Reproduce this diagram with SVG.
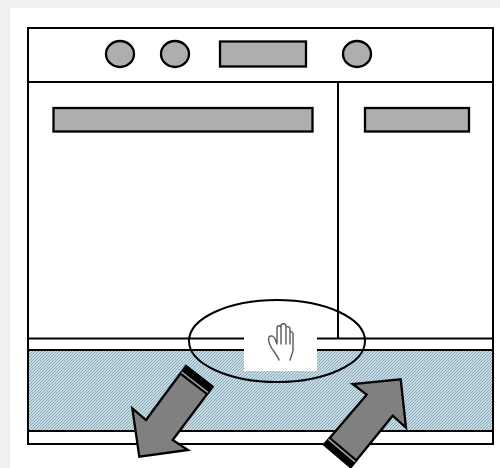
<svg xmlns="http://www.w3.org/2000/svg" width="500" height="468" viewBox="0 0 500 468">
<style>
.l{fill:none;stroke:#000;stroke-width:2}
.g{fill:#aeaeae;stroke:#000;stroke-width:2.300}
.a{fill:#808080;stroke:#000;stroke-width:2.300;stroke-linejoin:miter}
.b{fill:#000}
.s{fill:none;stroke:#b4b4b4;stroke-width:1.500}
.h{fill:none;stroke:#5a5a5a;stroke-width:1.400;stroke-linecap:round;stroke-linejoin:round}
</style>
<defs>
<pattern id="hatch" width="3" height="3" patternUnits="userSpaceOnUse">
<rect width="3" height="3" fill="#eef4f6"/>
<path d="M-1 1L1 -1M-1 4L4 -1M2 4L4 2" stroke="#7fa6ba" stroke-width="1.200"/>
</pattern>
</defs>
<rect width="500" height="468" fill="#f0f0f0"/>
<rect x="10" y="8" width="490" height="460" fill="#fff"/>
<g id="hatch-band"><rect x="28" y="350" width="464" height="81" fill="url(#hatch)"/></g>
<g id="body">
<rect class="l" x="28" y="28" width="465" height="416"/>
<path class="l" d="M28 82H493M338 82V338M28 338.500H493M28 350H493M28 431H493"/>
</g>
<g id="knob-1"><ellipse class="g" cx="120" cy="54" rx="14" ry="13"/></g>
<g id="knob-2"><ellipse class="g" cx="175" cy="54" rx="14" ry="13"/></g>
<g id="knob-3"><ellipse class="g" cx="357" cy="54" rx="14" ry="13"/></g>
<g id="display"><rect class="g" x="220" y="41.500" width="86" height="25"/></g>
<g id="handle-left"><rect class="g" x="53.500" y="108" width="259" height="23.500"/></g>
<g id="handle-right"><rect class="g" x="365" y="108" width="104" height="23.500"/></g>
<g id="hand-patch"><rect x="244" y="334" width="73" height="37" fill="#fff"/>
<path class="h" d="M279 360C278 356 273 351 271 347C269 343 268 339 269 337C271 335 274 336 275 339L277 344V328C277 325 281 325 281 328V344V326C281 323 286 323 286 326V344V328C286 326 290 326 290 329V344V333C290 331 293 331 293 334V350C293 353 291 356 290 360"/>
</g>
<g id="focus"><ellipse class="l" cx="277" cy="341" rx="88" ry="41"/></g>
<g id="arrow-down">
<path class="a" d="M186 366L212.700 386.700L172.700 440L188 450L139.300 456.700L132.300 408.300L146 420Z"/>
<path class="b" d="M186 366L212.700 386.700L206.400 395L179.700 374.400Z"/>
<path class="s" d="M181.500 372L208 392.500"/>
</g>
<g id="arrow-up">
<path class="a" d="M324 444.700L350.700 467.300L392.700 415.700L406 427.700L400.700 379.300L352.700 384L366.700 394.700Z"/>
<path class="b" d="M324 444.700L350.700 467.300L357 459.500L330.300 437Z"/>
<path class="s" d="M328.400 439.300L355 461.800"/>
</g>
</svg>
